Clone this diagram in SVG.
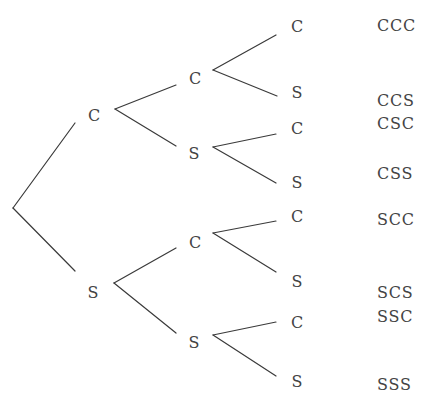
<svg xmlns="http://www.w3.org/2000/svg" width="422" height="394" viewBox="0 0 422 394">
<style>
text{font-family:"DejaVu Serif","Liberation Serif",serif;font-size:16px;fill:#444}
.n{text-anchor:middle}
.o{letter-spacing:0.8px}
line{stroke:#3a3a3a;stroke-width:1.2;stroke-linecap:round}
</style>
<rect width="422" height="394" fill="#fff"/>
<g id="connectors">
<line x1="13" y1="208" x2="75" y2="123"/>
<line x1="13" y1="208" x2="75" y2="271"/>
<line x1="115" y1="109" x2="176" y2="85"/>
<line x1="115" y1="109" x2="176" y2="146"/>
<line x1="114" y1="283" x2="176" y2="248"/>
<line x1="114" y1="283" x2="176" y2="333"/>
<line x1="213" y1="70" x2="276" y2="35"/>
<line x1="213" y1="70" x2="277" y2="96"/>
<line x1="213" y1="147" x2="276" y2="134"/>
<line x1="213" y1="147" x2="276" y2="183"/>
<line x1="213" y1="233" x2="276" y2="221"/>
<line x1="213" y1="233" x2="276" y2="272"/>
<line x1="213" y1="335" x2="276" y2="322"/>
<line x1="213" y1="335" x2="276" y2="376"/>
</g>
<g id="n-c"><text class="n" x="94" y="121">C</text></g>
<g id="n-s"><text class="n" x="93" y="298">S</text></g>
<g id="n-cc"><text class="n" x="195" y="84">C</text></g>
<g id="n-cs"><text class="n" x="194" y="159">S</text></g>
<g id="n-sc"><text class="n" x="195" y="248">C</text></g>
<g id="n-ss"><text class="n" x="194" y="348">S</text></g>
<g id="n-ccc"><text class="n" x="297" y="32">C</text></g>
<g id="n-ccs"><text class="n" x="297" y="98">S</text></g>
<g id="n-csc"><text class="n" x="297" y="134">C</text></g>
<g id="n-css"><text class="n" x="297" y="188">S</text></g>
<g id="n-scc"><text class="n" x="297" y="222">C</text></g>
<g id="n-scs"><text class="n" x="297" y="287">S</text></g>
<g id="n-ssc"><text class="n" x="297" y="328">C</text></g>
<g id="n-sss"><text class="n" x="297" y="387">S</text></g>
<g id="outcomes">
<text class="o" x="377" y="31">CCC</text>
<text class="o" x="377" y="106">CCS</text>
<text class="o" x="377" y="129">CSC</text>
<text class="o" x="377" y="178.5">CSS</text>
<text class="o" x="377" y="225">SCC</text>
<text class="o" x="377" y="298">SCS</text>
<text class="o" x="377" y="321.5">SSC</text>
<text class="o" x="377" y="390">SSS</text>
</g>
</svg>
